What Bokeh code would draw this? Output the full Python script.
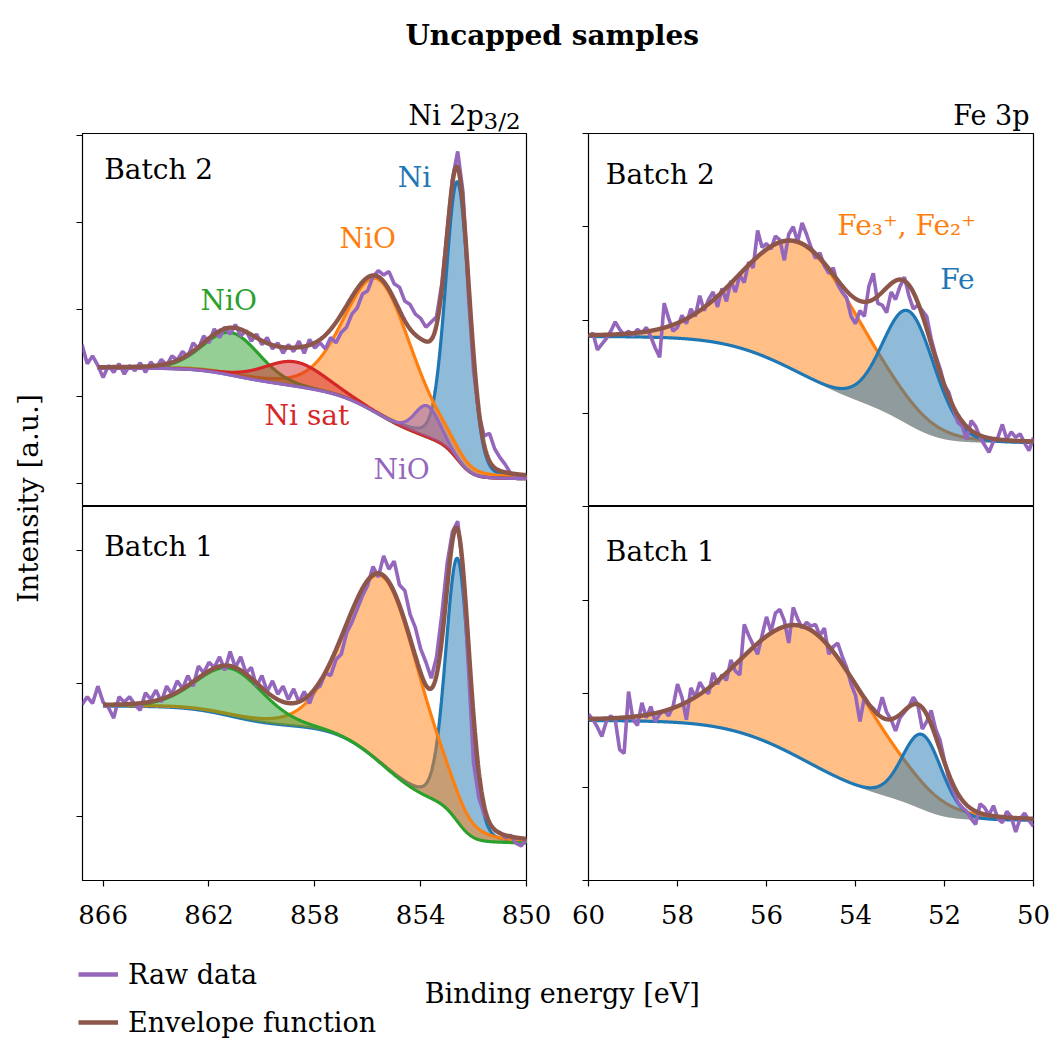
import numpy as np
from bokeh.plotting import figure
from bokeh.models import Range1d, FixedTicker, Legend, LegendItem, CustomJSTickFormatter
from bokeh.layouts import column, row
from bokeh.core.properties import value
from bokeh.embed import file_html
from bokeh.resources import INLINE

FONT = "DejaVu Serif"
BLUE, ORANGE, GREEN, RED, PURPLE, BROWN = "#1f77b4", "#ff7f0e", "#2ca02c", "#d62728", "#9467bd", "#8c564b"

# ---------------- data (intensities in arbitrary units) ----------------
NI_E_RAW = np.round(np.arange(866.8, 849.99, -0.2), 2)   # measurement grid, Ni 2p3/2
FE_E_RAW = np.round(np.arange(60.0, 49.99, -0.1), 2)     # measurement grid, Fe 3p

NI_B2_RAW = [2.60, 2.38, 2.47, 2.36, 2.22, 2.36, 2.28, 2.38, 2.26, 2.36,
             2.30, 2.39, 2.28, 2.40, 2.33, 2.43, 2.36, 2.47, 2.42, 2.52,
             2.46, 2.62, 2.55, 2.70, 2.62, 2.78, 2.68, 2.80, 2.72, 2.83,
             2.70, 2.76, 2.64, 2.72, 2.60, 2.68, 2.55, 2.62, 2.50, 2.60,
             2.52, 2.64, 2.50, 2.66, 2.56, 2.62, 2.55, 2.68, 2.62, 2.74,
             2.80, 2.95, 3.02, 3.18, 3.22, 3.38, 3.45, 3.40, 3.44, 3.30,
             3.26, 3.10, 3.06, 2.95, 2.90, 2.80, 2.86, 2.92, 3.30, 3.90,
             4.50, 4.82, 4.35, 3.20, 2.30, 1.80, 1.55, 1.58, 1.40, 1.30,
             1.22, 1.12, 1.10, 1.06, 1.08]
NI_B1_RAW = [1.84, 1.90, 1.85, 1.98, 1.86, 1.82, 1.74, 1.90, 1.86, 1.90,
             1.84, 1.80, 1.93, 1.88, 1.95, 1.86, 1.98, 1.92, 2.02, 1.96,
             2.06, 1.98, 2.13, 2.08, 2.16, 2.12, 2.20, 2.10, 2.24, 2.12,
             2.20, 2.08, 2.12, 1.98, 2.06, 1.94, 2.02, 1.92, 1.98, 1.88,
             1.96, 1.86, 1.94, 1.85, 1.96, 1.98, 2.08, 2.06, 2.18, 2.22,
             2.38, 2.46, 2.56, 2.66, 2.74, 2.88, 2.80, 2.96, 2.86, 2.92,
             2.74, 2.70, 2.52, 2.42, 2.26, 2.16, 2.04, 2.20, 2.52, 2.90,
             3.14, 3.22, 2.86, 2.14, 1.40, 1.14, 1.02, 0.95, 0.90, 0.88,
             0.84, 0.86, 0.80, 0.78, 0.83]
FE_B2_RAW = [1.82, 1.86, 1.68, 1.74, 1.80, 1.88, 1.98, 1.90, 1.84, 1.88,
             1.83, 1.90, 1.86, 1.92, 1.82, 1.70, 1.60, 2.18, 2.02, 1.88,
             1.92, 2.05, 1.96, 2.12, 2.04, 2.26, 2.10, 2.22, 2.30, 2.14,
             2.34, 2.20, 2.42, 2.30, 2.48, 2.40, 2.62, 2.56, 2.96, 2.78,
             2.82, 2.76, 2.90, 2.86, 2.64, 2.92, 3.00, 2.84, 3.04, 2.92,
             2.78, 2.66, 2.72, 2.58, 2.50, 2.56, 2.38, 2.30, 2.24, 2.04,
             1.96, 2.10, 2.04, 2.36, 2.50, 2.18, 2.16, 2.08, 2.30, 2.22,
             2.36, 2.46, 2.26, 2.12, 2.16, 2.10, 2.04, 1.80, 1.62, 1.48,
             1.30, 1.22, 1.05, 0.90, 0.86, 0.72, 0.92, 0.86, 0.74, 0.66,
             0.58, 0.70, 0.74, 0.88, 0.72, 0.80, 0.74, 0.78, 0.68, 0.60,
             0.74]
FE_B1_RAW = [1.78, 1.72, 1.64, 1.54, 1.70, 1.76, 1.72, 1.40, 1.36, 2.02,
             1.72, 1.66, 1.90, 1.74, 1.86, 1.70, 1.78, 1.82, 1.76, 1.86,
             2.10, 1.96, 1.72, 2.06, 1.96, 2.12, 2.04, 2.00, 2.22, 2.10,
             2.20, 2.14, 2.36, 2.24, 2.20, 2.74, 2.62, 2.52, 2.42, 2.62,
             2.82, 2.66, 2.86, 2.90, 2.78, 2.54, 2.92, 2.80, 2.70, 2.76,
             2.72, 2.74, 2.62, 2.70, 2.42, 2.50, 2.54, 2.40, 2.28, 2.10,
             1.98, 1.70, 1.96, 1.88, 1.84, 1.78, 1.96, 1.80, 1.72, 1.60,
             1.74, 1.80, 1.86, 1.96, 1.88, 1.62, 1.70, 1.82, 1.62, 1.50,
             1.28, 1.08, 0.96, 0.84, 0.78, 0.74, 0.66, 0.60, 0.82, 0.78,
             0.70, 0.80, 0.66, 0.62, 0.74, 0.68, 0.52, 0.66, 0.72, 0.64,
             0.58]

# fitted components: centre [eV], height, FWHM [eV], Lorentzian fraction
NI_B2_COLOR = [BLUE, ORANGE, GREEN, RED, PURPLE]
NI_B2_CENTER = [852.6, 855.6, 861.15, 858.75, 853.75]
NI_B2_HEIGHT = [3.19, 1.55, 0.49, 0.28, 0.36]
NI_B2_FWHM = [1.05, 3.0, 2.5, 2.7, 1.1]
NI_B2_ETA = [0.15, 0.2, 0.10, 0.10, 0.10]
NI_B2_BG = [1.057, 2.33]          # Shirley end points (low BE side, high BE side)
NI_B2_FIT = [849.8, 866.2]

NI_B1_COLOR = [BLUE, ORANGE, GREEN]
NI_B1_CENTER = [852.6, 855.4, 861.2]
NI_B1_HEIGHT = [1.98, 1.42, 0.36]
NI_B1_FWHM = [1.05, 3.3, 3.0]
NI_B1_ETA = [0.15, 0.15, 0.15]
NI_B1_BG = [0.80, 1.83]
NI_B1_FIT = [849.8, 866.0]

FE_B2_COLOR = [ORANGE, BLUE]
FE_B2_CENTER = [55.2, 52.8]
FE_B2_HEIGHT = [1.40, 1.22]
FE_B2_FWHM = [3.1, 1.38]
FE_B2_ETA = [0.10, 0.10]
FE_B2_BG = [0.679, 1.822]
FE_B2_FIT = [50.0, 60.0]

FE_B1_COLOR = [ORANGE, BLUE]
FE_B1_CENTER = [55.05, 52.5]
FE_B1_HEIGHT = [1.43, 0.80]
FE_B1_FWHM = [3.3, 1.05]
FE_B1_ETA = [0.10, 0.10]
FE_B1_BG = [0.641, 1.711]
FE_B1_FIT = [50.0, 60.0]

NI_TICKS = [866, 862, 858, 854, 850]
FE_TICKS = [60, 58, 56, 54, 52, 50]


def pseudo_voigt(E, c, h, w, eta):
    x = (E - c) / w
    return h * ((1 - eta) * np.exp(-4 * np.log(2) * x * x) + eta / (1 + 4 * x * x))


def fit_curves(fit, centers, heights, fwhms, etas, bg_ends):
    E = np.linspace(fit[0], fit[1], 1500)
    comps = [pseudo_voigt(E, c, h, w, e) for c, h, w, e in zip(centers, heights, fwhms, etas)]
    total = np.sum(comps, axis=0)
    cum = np.concatenate([[0.0], np.cumsum(0.5 * (total[1:] + total[:-1]) * np.diff(E))])
    bg = bg_ends[0] + (bg_ends[1] - bg_ends[0]) * cum / cum[-1]   # Shirley background
    return E, bg, comps, bg + total


def panel(width, height, xr, yr, yticks, borders, xticks=None):
    p = figure(width=width, height=height, x_range=Range1d(*xr), y_range=Range1d(*yr),
               output_backend="svg", toolbar_location=None,
               x_axis_location="below" if xticks else None, y_axis_location="left",
               min_border_left=borders[0], min_border_right=borders[1],
               min_border_top=borders[2], min_border_bottom=borders[3])
    p.grid.visible = False
    p.outline_line_color = "black"
    p.outline_line_width = 1.2
    p.background_fill_color = "white"
    p.border_fill_color = "white"
    ya = p.yaxis[0]
    ya.ticker = FixedTicker(ticks=yticks)
    ya.formatter = CustomJSTickFormatter(code="return ''")
    ya.major_label_standoff = 0
    ya.major_tick_out = 6
    ya.major_tick_in = 0
    ya.minor_tick_out = 0
    ya.minor_tick_in = 0
    ya.axis_line_color = None
    ya.major_tick_line_width = 1.2
    ya.major_tick_line_color = "black"
    if xticks:
        xa = p.xaxis[0]
        xa.ticker = FixedTicker(ticks=xticks)
        xa.major_label_text_font = FONT
        xa.major_label_text_font_size = "26px"
        xa.major_label_text_color = "black"
        xa.major_label_standoff = 18
        xa.major_tick_out = 6
        xa.major_tick_in = 0
        xa.minor_tick_out = 0
        xa.minor_tick_in = 0
        xa.axis_line_color = None
        xa.major_tick_line_width = 1.2
        xa.major_tick_line_color = "black"
    return p


def draw(p, fit_data, colors, e_raw, raw, ann):
    E, bg, comps, env = fit_data
    for comp, col in zip(comps, colors):
        p.varea(x=E, y1=bg, y2=bg + comp, fill_color=col, fill_alpha=0.5)
        p.line(E, bg + comp, line_color=col, line_width=3.2)
    p.line(e_raw, raw, line_color=PURPLE, line_width=3.6)
    p.line(E, env, line_color=BROWN, line_width=4.4)
    for txt, x, y, col, align in ann:
        p.text(x=[x], y=[y], text=[txt], text_color=col, text_font=value(FONT),
               text_font_size="28px", text_align=align, text_baseline="middle")


# ---------------- panels ----------------
LW, RW = 486, 495
tl = panel(LW, 373, (866.78, 850.0), (0.739, 5.026), [1, 2, 3, 4, 5], (12, 30, 0, 0))
tr = panel(RW, 373, (60.0, 50.0), (0.0, 4.0), [0, 1, 2, 3, 4], (32, 18, 0, 0))
bl = panel(LW, 434, (866.78, 850.0), (0.519, 3.331), [1, 2, 3], (12, 30, 0, 60), NI_TICKS)
br = panel(RW, 434, (60.0, 50.0), (0.0, 4.0), [0, 1, 2, 3, 4], (32, 18, 0, 60), FE_TICKS)

draw(tl, fit_curves(NI_B2_FIT, NI_B2_CENTER, NI_B2_HEIGHT, NI_B2_FWHM, NI_B2_ETA, NI_B2_BG),
     NI_B2_COLOR, NI_E_RAW, NI_B2_RAW,
     [("Batch 2", 865.96, 4.607, "black", "left"),
      ("Ni", 854.23, 4.518, BLUE, "center"),
      ("NiO", 856.0, 3.817, ORANGE, "center"),
      ("NiO", 861.25, 3.105, GREEN, "center"),
      ("Ni sat", 858.30, 1.784, RED, "center"),
      ("NiO", 854.72, 1.164, PURPLE, "center")])
draw(bl, fit_curves(NI_B1_FIT, NI_B1_CENTER, NI_B1_HEIGHT, NI_B1_FWHM, NI_B1_ETA, NI_B1_BG),
     NI_B1_COLOR, NI_E_RAW, NI_B1_RAW,
     [("Batch 1", 865.96, 3.032, "black", "left")])
draw(tr, fit_curves(FE_B2_FIT, FE_B2_CENTER, FE_B2_HEIGHT, FE_B2_FWHM, FE_B2_ETA, FE_B2_BG),
     FE_B2_COLOR, FE_E_RAW, FE_B2_RAW,
     [("Batch 2", 59.611, 3.558, "black", "left"),
      ("Fe\u2083\u207a, Fe\u2082\u207a", 52.85, 3.012, ORANGE, "center"),
      ("Fe", 51.71, 2.433, BLUE, "center")])
draw(br, fit_curves(FE_B1_FIT, FE_B1_CENTER, FE_B1_HEIGHT, FE_B1_FWHM, FE_B1_ETA, FE_B1_BG),
     FE_B1_COLOR, FE_E_RAW, FE_B1_RAW,
     [("Batch 1", 59.611, 3.521, "black", "left")])


# ---------------- text strips ----------------
def strip(w, h):
    p = figure(width=w, height=h, x_range=Range1d(0, w), y_range=Range1d(0, h),
               output_backend="svg", toolbar_location=None,
               x_axis_location=None, y_axis_location=None,
               min_border_left=0, min_border_right=0, min_border_top=0, min_border_bottom=0)
    p.grid.visible = False
    p.outline_line_color = None
    p.background_fill_color = "white"
    p.border_fill_color = "white"
    return p


TOP_H = 133
top = strip(1051, TOP_H)
top.text(x=[551.7], y=[TOP_H - 35], text=["Uncapped samples"], text_font=value(FONT),
         text_font_size="28px", text_font_style="bold", text_align="center",
         text_baseline="alphabetic", text_color="black")
top.text(x=[408], y=[TOP_H - 115], text=["Ni 2p"], text_font=value(FONT), text_font_size="27px",
         text_align="left", text_baseline="alphabetic", text_color="black")
top.text(x=[483], y=[TOP_H - 120], text=["3/2"], text_font=value(FONT), text_font_size="23px",
         text_align="left", text_baseline="alphabetic", text_color="black")
top.text(x=[1029], y=[TOP_H - 115], text=["Fe 3p"], text_font=value(FONT), text_font_size="27px",
         text_align="right", text_baseline="alphabetic", text_color="black")

LEFT_H = 373 + 434
left = strip(70, LEFT_H)
left.text(x=[28], y=[LEFT_H - (498 - TOP_H)], text=["Intensity [a.u.]"], text_font=value(FONT),
          text_font_size="28px", text_align="center", text_baseline="middle",
          angle=np.pi / 2, text_color="black")

BOT_TOP = TOP_H + LEFT_H
BOT_H = 1039 - BOT_TOP
bottom = strip(1051, BOT_H)
bottom.text(x=[561.7], y=[1039 - 993], text=["Binding energy [eV]"], text_font=value(FONT),
            text_font_size="27px", text_align="center", text_baseline="alphabetic",
            text_color="black")
r_raw = bottom.line(x=[np.nan, np.nan], y=[np.nan, np.nan], line_color=PURPLE, line_width=4.3)
r_env = bottom.line(x=[np.nan, np.nan], y=[np.nan, np.nan], line_color=BROWN, line_width=4.3)
leg = Legend(items=[LegendItem(label=value("Raw data"), renderers=[r_raw]),
                    LegendItem(label=value("Envelope function"), renderers=[r_env])],
             location=(78, -3), orientation="vertical",
             border_line_color=None, background_fill_alpha=0,
             label_text_font=FONT, label_text_font_size="27px", label_text_color="black",
             glyph_width=40, glyph_height=40, label_height=40, label_standoff=10,
             spacing=8, padding=0, margin=0)
bottom.add_layout(leg, "center")

layout = column(top,
                row(left, column(row(tl, tr), row(bl, br))),
                bottom)

open("out.html", "w").write(file_html(layout, INLINE))
